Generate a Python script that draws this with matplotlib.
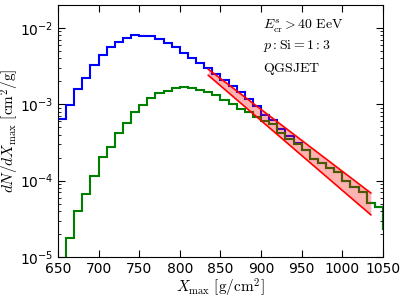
import matplotlib
matplotlib.use("Agg")
import matplotlib.pyplot as plt
import numpy as np

plt.rcParams['mathtext.fontset'] = 'cm'
plt.rcParams['axes.unicode_minus'] = False

# histogram bin edges (Xmax, g/cm^2)
edges = np.arange(650, 1070, 10)

# total (p + Si)
blue = [6.5e-4, 9.9e-4, 1.61e-3, 2.22e-3, 3.23e-3, 4.45e-3, 5.57e-3, 6.6e-3,
        7.4e-3, 8.1e-3, 7.9e-3, 7.9e-3, 7.2e-3, 6.3e-3, 5.57e-3, 4.69e-3,
        3.99e-3, 3.43e-3, 2.95e-3, 2.5e-3, 2.09e-3, 1.74e-3, 1.45e-3, 1.17e-3,
        9.5e-4, 7.3e-4, 6.2e-4, 4.7e-4, 3.8e-4, 3.1e-4, 2.56e-4, 1.93e-4,
        1.71e-4, 1.47e-4, 1.29e-4, 9.8e-5, 8.3e-5, 7.0e-5, 5.1e-5, 4.5e-5,
        2.3e-5]

# proton component
green = [4e-6, 1.8e-5, 4.03e-5, 6.68e-5, 1.16e-4, 2.05e-4, 2.74e-4, 4.25e-4,
         5.74e-4, 7.85e-4, 9.8e-4, 1.2e-3, 1.40e-3, 1.50e-3, 1.62e-3, 1.70e-3,
         1.62e-3, 1.56e-3, 1.46e-3, 1.31e-3, 1.13e-3, 1.0e-3, 8.6e-4, 8.0e-4,
         6.8e-4, 6.03e-4, 5.45e-4, 4.25e-4, 3.54e-4, 2.98e-4, 2.56e-4, 1.93e-4,
         1.71e-4, 1.47e-4, 1.29e-4, 9.8e-5, 8.3e-5, 7.0e-5, 5.1e-5, 4.5e-5,
         2.3e-5]

# exponential tail band
band_x = [835, 1035]
band_upper = [2.88e-3, 6.9e-5]
band_lower = [2.40e-3, 3.57e-5]

fig = plt.figure(figsize=(4.07, 3.0), dpi=100)
ax = fig.add_axes([0.1425, 0.1433, 0.7985, 0.84])

ax.stairs(blue, edges, color='#0000ff', lw=1.5, baseline=None)
ax.stairs(green, edges, color='#008000', lw=1.5, baseline=None)

ax.fill_between(band_x, band_lower, band_upper, color='red', alpha=0.3, lw=0)
ax.plot(band_x, band_upper, color='red', lw=1.2)
ax.plot(band_x, band_lower, color='red', lw=1.2)

ax.set_yscale('log')
ax.set_xlim(650, 1050)
ax.set_ylim(1e-5, 2e-2)
ax.set_xticks(np.arange(650, 1051, 50))

ax.tick_params(which='both', direction='in', top=True, right=True, labelsize=10)
ax.tick_params(which='major', length=5)
ax.tick_params(which='minor', length=2.5)

ax.set_xlabel(r'$X_{\rm max}\ [{\rm g/cm}^2]$', fontsize=11, labelpad=1)
ax.set_ylabel(r'$dN/dX_{\rm max}\ [{\rm cm}^2/{\rm g}]$', fontsize=11)
ax.yaxis.set_label_coords(-0.115, 0.5)

ax.text(0.63, 0.915, r'$E^s_{\rm cr} > 40\ {\rm EeV}$', transform=ax.transAxes,
        fontsize=10, va='center')
ax.text(0.63, 0.838, r'$p : {\rm Si} = 1:3$', transform=ax.transAxes,
        fontsize=10, va='center')
ax.text(0.63, 0.745, r'$\mathrm{QGSJET}$', transform=ax.transAxes,
        fontsize=10, va='center')

plt.savefig('out.png', dpi=100)
